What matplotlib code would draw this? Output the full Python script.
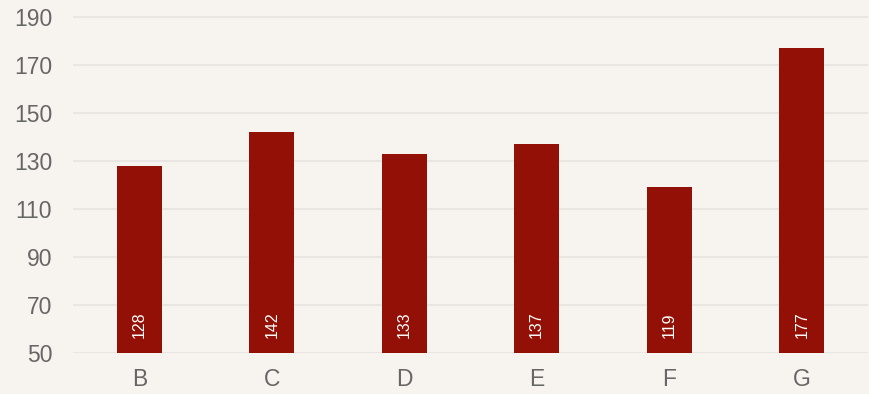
import matplotlib.pyplot as plt

categories = ["B", "C", "D", "E", "F", "G"]
values = [128, 142, 133, 137, 119, 177]
y_ticks = [50, 70, 90, 110, 130, 150, 170, 190]

bg = "#f7f4f0"
bar_color = "#921005"
text_color = "#666666"

plt.rcParams['font.family'] = ['Liberation Sans', 'DejaVu Sans']

fig = plt.figure(figsize=(8.7, 3.94), dpi=100, facecolor=bg)
ax = fig.add_axes([73 / 870, 41 / 394, 795 / 870, 353 / 394])
ax.set_facecolor(bg)

x = range(len(categories))
bars = ax.bar(x, values, width=0.34, color=bar_color, zorder=2)

for xi, v in zip(x, values):
    ax.annotate(str(v), xy=(xi, 50), xytext=(0, 11), textcoords='offset points',
                rotation=90, ha='center', va='bottom', color='white',
                fontsize=11.5, zorder=3)

ax.set_xlim(-0.5, len(categories) - 0.5)
ax.set_ylim(50, 197)
ax.set_yticks(y_ticks)
ax.set_xticks(list(x))
ax.set_xticklabels(categories)
ax.grid(axis='y', color='#e8e5e2', linewidth=1.5, zorder=0)
ax.set_axisbelow(True)
ax.tick_params(axis='both', length=0, labelsize=16.5, labelcolor=text_color)
ax.tick_params(axis='y', pad=15)
ax.tick_params(axis='x', pad=11)
for s in ax.spines.values():
    s.set_visible(False)

fig.savefig("out.png", dpi=100, facecolor=bg)
